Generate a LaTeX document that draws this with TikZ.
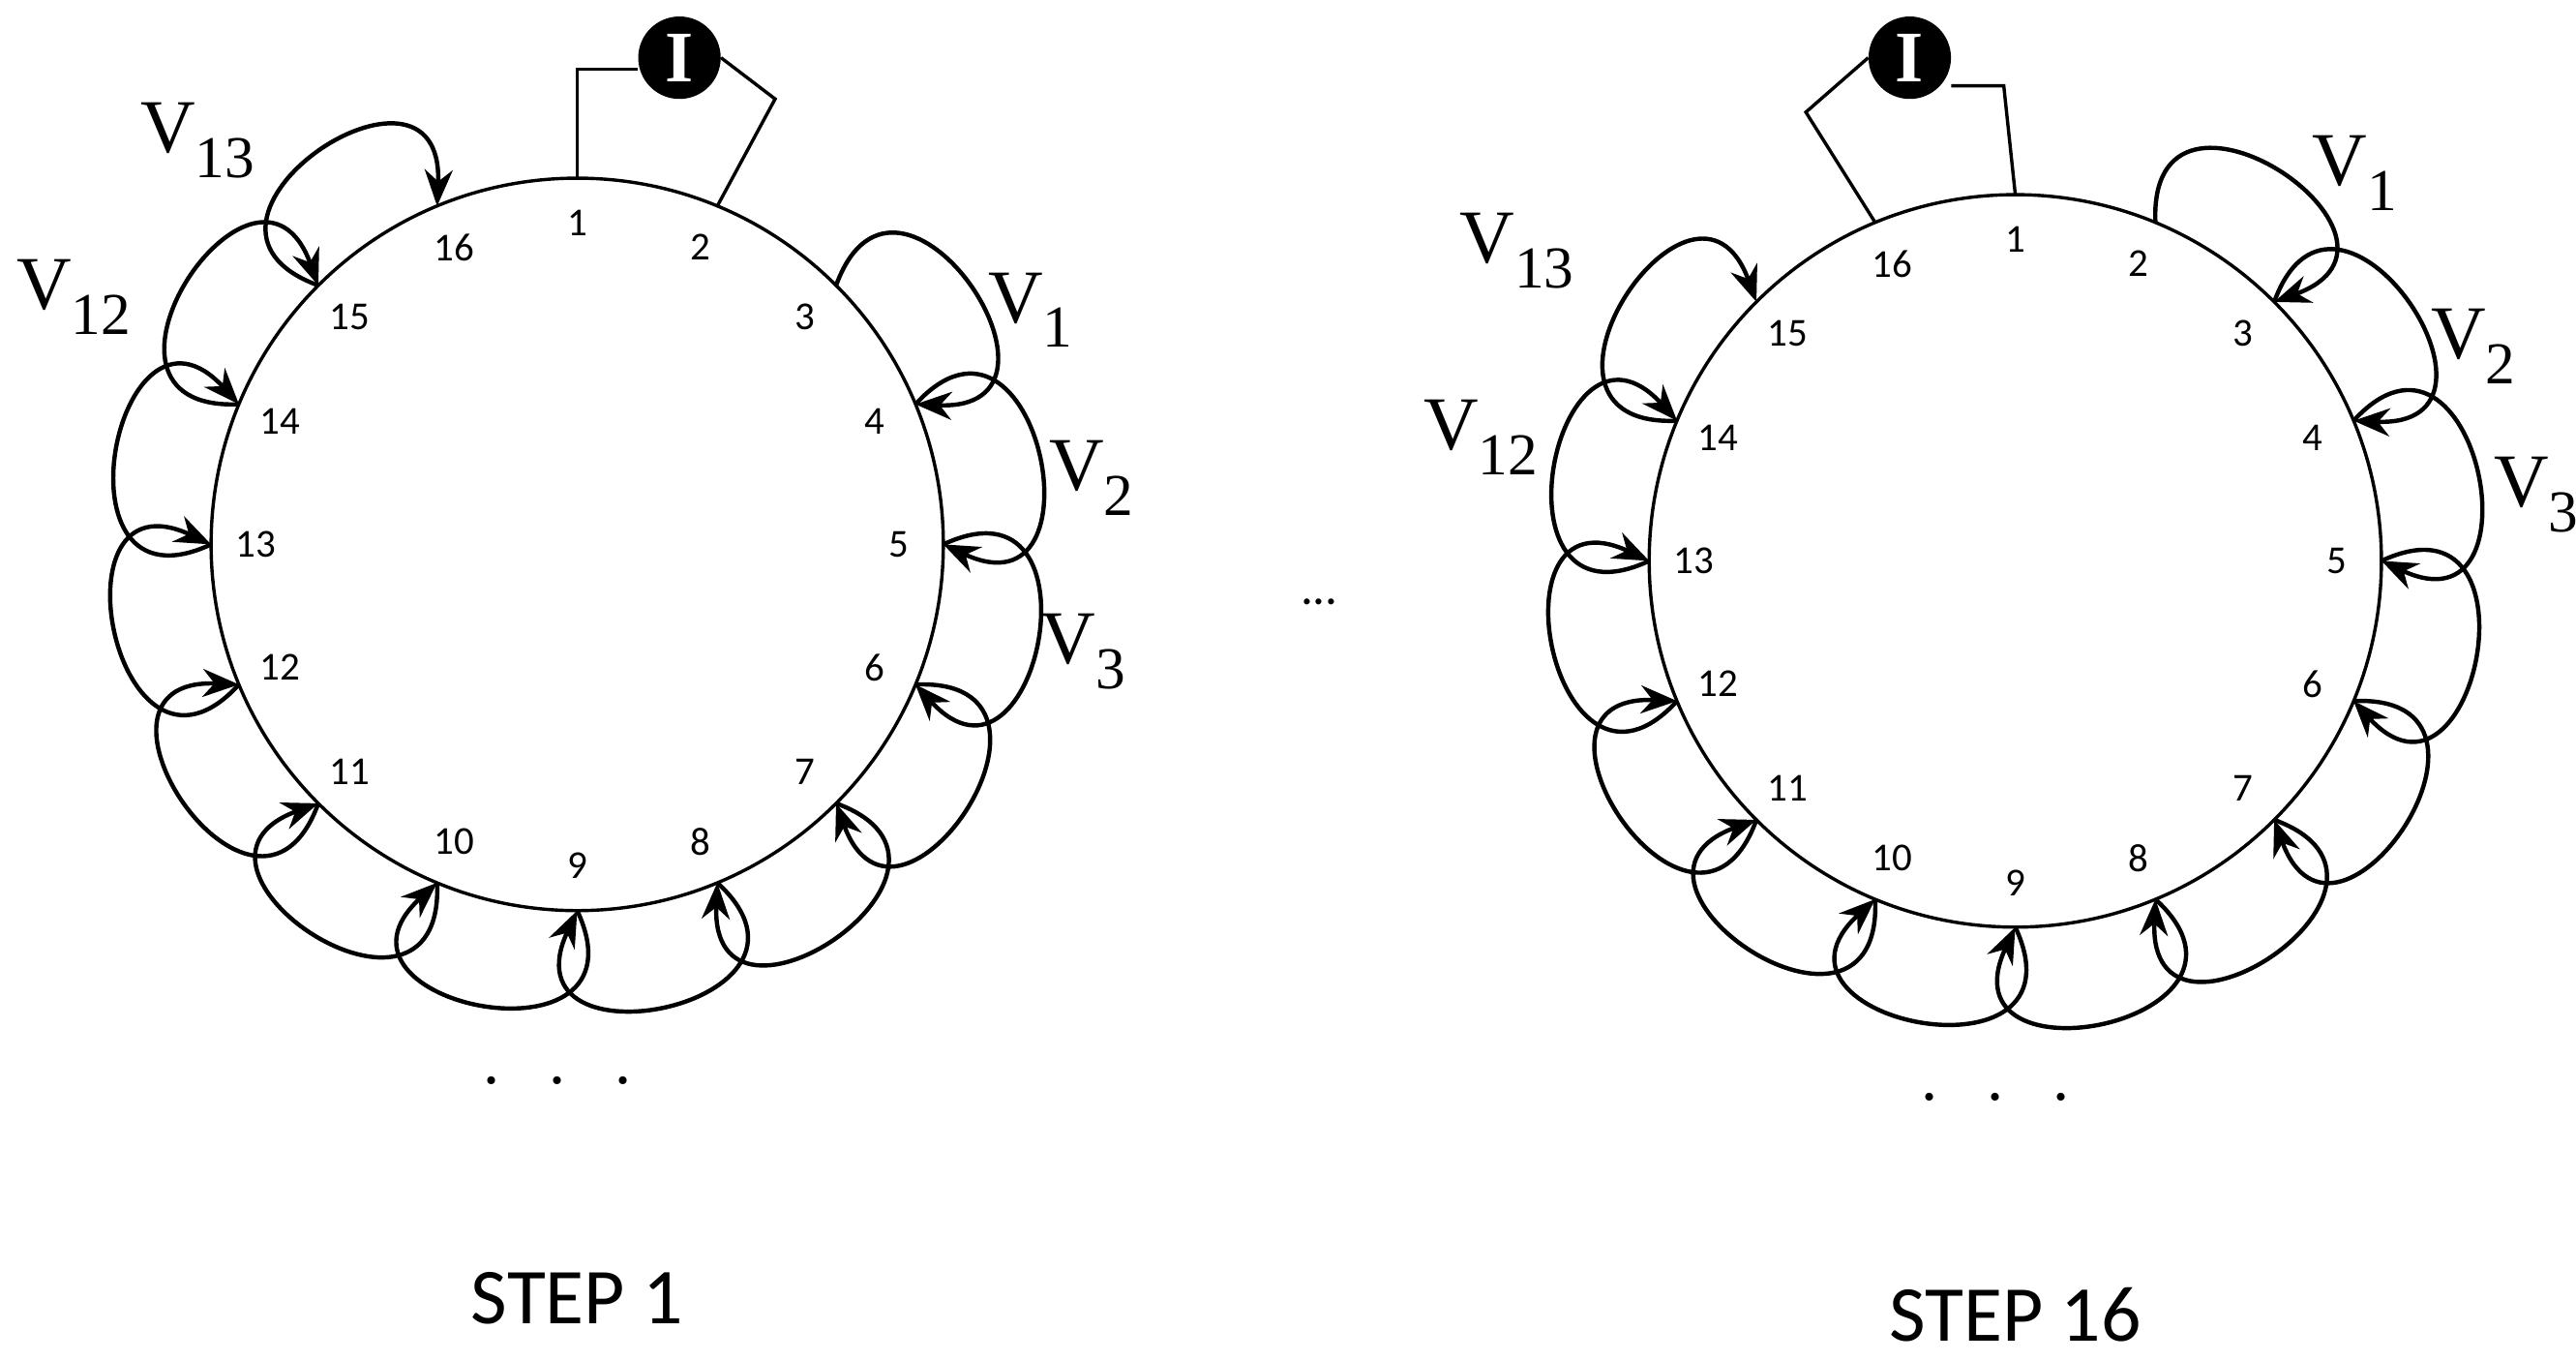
\documentclass[tikz,border=0pt]{standalone}
\usepackage{fontspec}
\setmainfont{Liberation Serif}
\newfontfamily\carl{Carlito}
\usetikzlibrary{arrows.meta,calc}
\newcommand{\vsub}[1]{V\textsubscript{\fontsize{36}{36}\selectfont #1}}
\begin{document}
\begin{tikzpicture}[x=1pt,y=1pt,
  ring/.style={line width=2pt},
  vloop/.style={line width=2.6pt,-{Stealth[length=22pt,width=17pt]}},
  wire/.style={line width=2pt},
  num/.style={font=\carl\fontsize{24}{24}\selectfont},
  vlab/.style={font=\fontsize{46}{46}\selectfont},
  src/.style={circle,fill=black,minimum size=50pt,inner sep=0pt,text=white,font=\bfseries\fontsize{44}{44}\selectfont}]
\useasboundingbox (0,0) rectangle (1562,825);
% ---- left ----
\node[ring,draw,circle,minimum size=444pt,inner sep=0pt] (LC) at (350,495) {};
\foreach \k in {1,...,16}{
  \pgfmathsetmacro\a{90-(\k-1)*22.5}
  \coordinate (L\k) at ($(LC)+(\a:222)$);
  \node[num] (Ln\k) at ($(LC)+(\a:195)$) {\k};
}
\foreach \k in {3,...,15}{
  \pgfmathsetmacro\a{90-(\k-1)*22.5+25}
  \pgfmathsetmacro\b{90-\k*22.5-25}
  \pgfmathtruncatemacro\n{\k+1}
  \draw[vloop] (L\k) .. controls +(\a:110) and +(\b:110) .. (L\n);
}
\node[src] (LI) at (412,790) {I};
\coordinate (La) at (350,783);
\coordinate (Lb) at (470,765);
\draw[wire] (L1) -- (La) -- (LI.west|-La);
\draw[wire] (L2) -- (Lb) -- (LI.east);
\node[vlab] (LV13) at (120,740) {\vsub{13}};
\node[vlab] (LV12) at (45,645) {\vsub{12}};
\node[vlab] (LV1) at (625,637) {\vsub{1}};
\node[vlab] (LV2) at (662,535) {\vsub{2}};
\node[vlab] (LV3) at (657,430) {\vsub{3}};
\node[font=\fontsize{40}{40}\selectfont] (Ldots) at (338,170) {.\ \ \ .\ \ \ .};
\node[font=\carl\fontsize{48}{48}\selectfont] (Lstep) at (350,38) {STEP 1};
% ---- middle ----
\node[font=\carl\fontsize{30}{30}\selectfont] (mid) at (800,460) {...};
% ---- right ----
\node[ring,draw,circle,minimum size=444pt,inner sep=0pt] (RC) at (1222,485) {};
\foreach \k in {1,...,16}{
  \pgfmathsetmacro\a{90-(\k-1)*22.5}
  \coordinate (R\k) at ($(RC)+(\a:222)$);
  \node[num] (Rn\k) at ($(RC)+(\a:195)$) {\k};
}
\foreach \k in {2,...,14}{
  \pgfmathsetmacro\a{90-(\k-1)*22.5+25}
  \pgfmathsetmacro\b{90-\k*22.5-25}
  \pgfmathtruncatemacro\n{\k+1}
  \draw[vloop] (R\k) .. controls +(\a:110) and +(\b:110) .. (R\n);
}
\node[src] (RI) at (1158,790) {I};
\coordinate (Ra) at (1095,757);
\coordinate (Rb) at (1215,773);
\draw[wire] (R16) -- (Ra) -- (RI.west);
\draw[wire] (R1) -- (Rb) -- (RI.east|-Rb);
\node[vlab] (RV1) at (1428,720) {\vsub{1}};
\node[vlab] (RV2) at (1500,615) {\vsub{2}};
\node[vlab] (RV3) at (1538,525) {\vsub{3}};
\node[vlab] (RV13) at (920,673) {\vsub{13}};
\node[vlab] (RV12) at (898,560) {\vsub{12}};
\node[font=\fontsize{40}{40}\selectfont] (Rdots) at (1210,160) {.\ \ \ .\ \ \ .};
\node[font=\carl\fontsize{48}{48}\selectfont] (Rstep) at (1222,28) {STEP 16};
\end{tikzpicture}
\end{document}
